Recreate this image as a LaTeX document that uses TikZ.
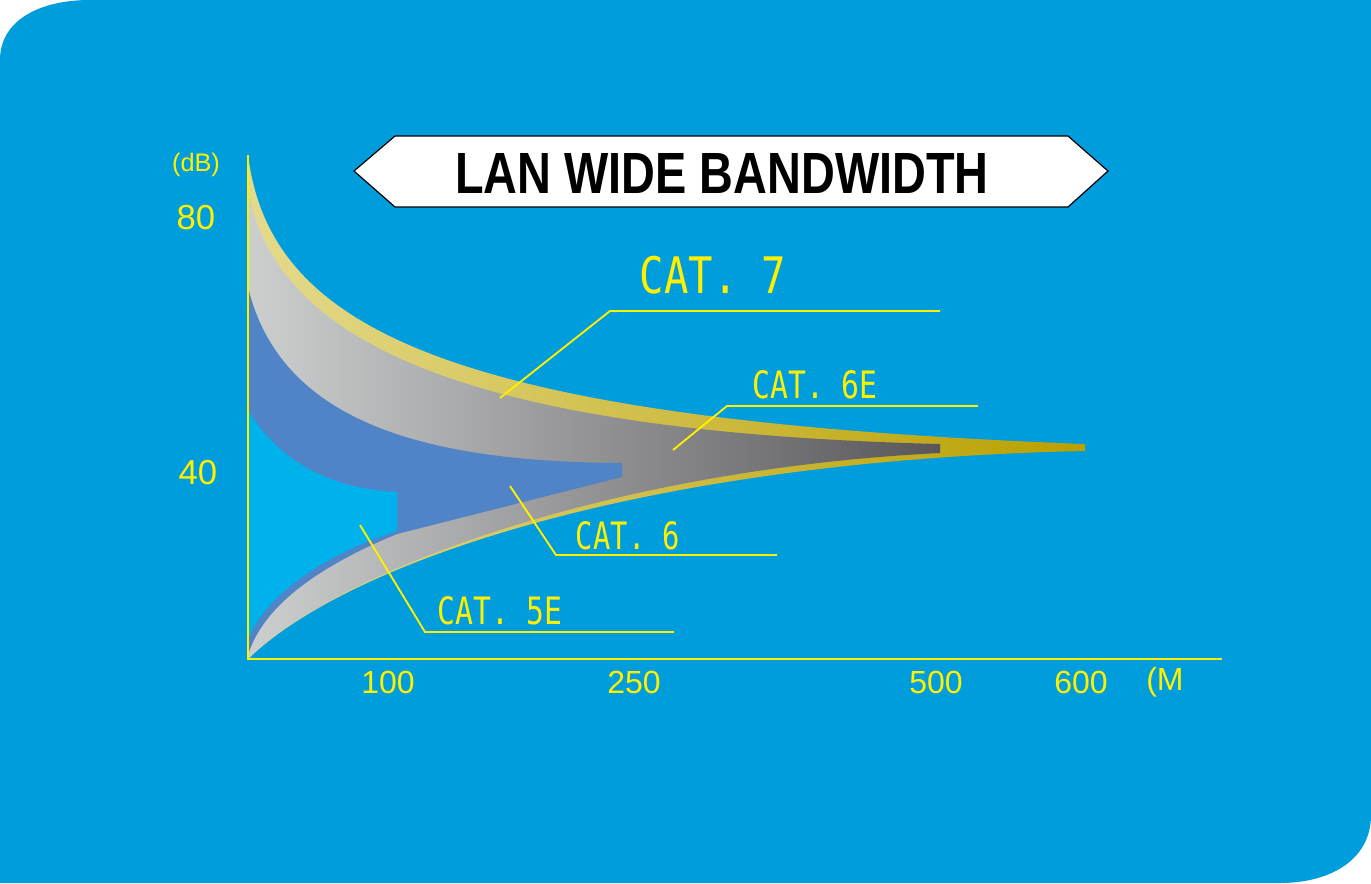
\documentclass[tikz,border=0pt]{standalone}
\usepackage{fontspec}
\setmainfont{Liberation Sans}
\newfontfamily\monof{DejaVu Sans Mono}
\definecolor{bg}{RGB}{0,157,220}
\definecolor{yel}{RGB}{255,240,0}
\definecolor{bandblue}{RGB}{80,132,198}
\definecolor{cyanb}{RGB}{0,178,235}
\begin{document}
\begin{tikzpicture}[x=0.75pt,y=-0.75pt,
  ax/.style={draw=yel,line width=1.6pt},
  lead/.style={draw=yel,line width=1.4pt},
  lbl/.style={text=yel,font=\fontsize{24}{26}\selectfont,inner sep=0pt},
  cat/.style={text=yel,inner sep=0pt}]
\useasboundingbox (0,0) rectangle (1371,883);
\fill[white] (0,0) rectangle (1371,883);
\fill[bg] (0,60) .. controls (0,20) and (40,0) .. (90,0) -- (1371,0) -- (1371,815) .. controls (1371,860) and (1330,883) .. (1280,883) -- (0,883) -- cycle;
% bands
\shade[left color={rgb,255:red,228;green,218;blue,140}, right color={rgb,255:red,185;green,160;blue,0}]
  (248,155) .. controls (270,330) and (450,420) .. (1085,444) -- (1085,451)
  .. controls (650,460) and (350,560) .. (248,659) -- cycle;
\shade[left color={rgb,255:red,205;green,207;blue,207}, right color={rgb,255:red,88;green,86;blue,90}]
  (248,190) .. controls (275,340) and (460,432) .. (940,444) -- (940,453)
  .. controls (600,470) and (330,575) .. (248,659) -- cycle;
\fill[bandblue] (248,287) .. controls (280,420) and (420,462) .. (622,463) -- (622,477)
  -- (397,534) .. controls (310,570) and (262,610) .. (248,655) -- cycle;
\fill[cyanb] (248,410) .. controls (290,480) and (360,490) .. (397,492) -- (397,531)
  .. controls (320,555) and (262,600) .. (248,640) -- cycle;
% axes
\coordinate (o) at (248,659);
\coordinate (ytop) at (248,155);
\coordinate (xend) at (1222,659);
\draw[ax] (ytop) -- (o) -- (xend);
% title banner
\draw[fill=white,line width=0.9pt] (354,171) -- (395,136) -- (1068,136) -- (1108,171) -- (1068,207) -- (395,207) -- cycle;
\node[inner sep=0pt] (title) at (722,173) {\resizebox{400pt}{30pt}{\bfseries LAN WIDE BANDWIDTH}};
% axis labels
\node[lbl,font=\fontsize{19}{21}\selectfont] (db) at (196,165) {(dB)};
\node[lbl,font=\fontsize{26}{28}\selectfont] (l80) at (196,218) {80};
\node[lbl,font=\fontsize{26}{28}\selectfont] (l40) at (198,473) {40};
\node[lbl] (t100) at (388,682) {100};
\node[lbl] (t250) at (634,682) {250};
\node[lbl] (t500) at (936,682) {500};
\node[lbl] (t600) at (1081,682) {600};
\node[lbl,anchor=west] (tm) at (1146,682) {(M};
% CAT labels
\node[cat] (c7) at (713,275) {\resizebox{110pt}{28pt}{\monof CAT. 7}};
\node[cat] (c6e) at (815,385) {\resizebox{94pt}{21pt}{\monof CAT. 6E}};
\node[cat] (c6) at (628,536) {\resizebox{78pt}{21pt}{\monof CAT. 6}};
\node[cat] (c5e) at (500,611) {\resizebox{94pt}{21pt}{\monof CAT. 5E}};
% leaders
\coordinate (p7a) at (500,398); \coordinate (p7b) at (610,311); \coordinate (p7c) at (940,311);
\draw[lead] (p7a) -- (p7b) -- (p7c);
\coordinate (p6ea) at (673,450); \coordinate (p6eb) at (727,406); \coordinate (p6ec) at (978,406);
\draw[lead] (p6ea) -- (p6eb) -- (p6ec);
\coordinate (p6a) at (510,486); \coordinate (p6b) at (556,555); \coordinate (p6c) at (777,555);
\draw[lead] (p6a) -- (p6b) -- (p6c);
\coordinate (p5a) at (360,525); \coordinate (p5b) at (425,632); \coordinate (p5c) at (674,632);
\draw[lead] (p5a) -- (p5b) -- (p5c);
\end{tikzpicture}
\end{document}
